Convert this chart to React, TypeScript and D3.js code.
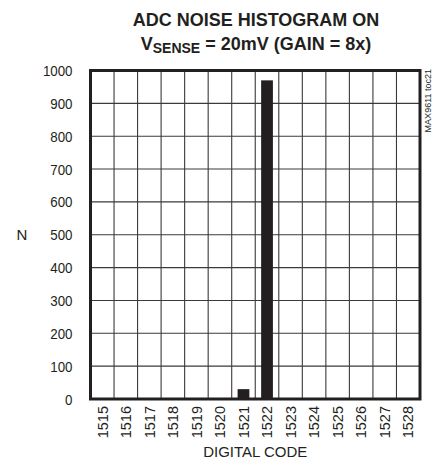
import { useRef, useEffect } from 'react';
import * as d3 from 'd3';

const codes = ['1515', '1516', '1517', '1518', '1519', '1520', '1521', '1522', '1523', '1524', '1525', '1526', '1527', '1528'];
const counts = [0, 0, 0, 0, 0, 0, 30, 970, 0, 0, 0, 0, 0, 0];
const yTicks = [0, 100, 200, 300, 400, 500, 600, 700, 800, 900, 1000];

const WIDTH = 435;
const HEIGHT = 465;
const MARGIN = { top: 70.5, right: 15, bottom: 66, left: 90.5 };
const FONT = 'Liberation Sans, Arial, sans-serif';

export default function App() {
  const svgRef = useRef<SVGSVGElement>(null);

  useEffect(() => {
    if (!svgRef.current) return;
    const svg = d3.select(svgRef.current);
    svg.selectAll('*').remove();

    const iW = WIDTH - MARGIN.left - MARGIN.right;
    const iH = HEIGHT - MARGIN.top - MARGIN.bottom;
    const g = svg.append('g').attr('transform', `translate(${MARGIN.left},${MARGIN.top})`);

    const x = d3.scaleBand<string>().domain(codes).range([0, iW]).paddingInner(0.5).paddingOuter(0.25);
    const xCell = d3.scaleBand<string>().domain(codes).range([0, iW]);
    const y = d3.scaleLinear().domain([0, 1000]).range([iH, 0]);

    // grid
    g.append('g')
      .attr('stroke', '#3a3a3a')
      .attr('stroke-width', 1.1)
      .selectAll('line')
      .data(yTicks.slice(1, -1))
      .join('line')
      .attr('x1', 0).attr('x2', iW)
      .attr('y1', (d) => y(d)).attr('y2', (d) => y(d));

    g.append('g')
      .attr('stroke', '#3a3a3a')
      .attr('stroke-width', 1.1)
      .selectAll('line')
      .data(codes.slice(1))
      .join('line')
      .attr('x1', (d) => xCell(d)!).attr('x2', (d) => xCell(d)!)
      .attr('y1', 0).attr('y2', iH);

    // bars
    g.append('g')
      .selectAll('rect')
      .data(codes.map((c, i) => ({ c, v: counts[i] })).filter((d) => d.v > 0))
      .join('rect')
      .attr('x', (d) => x(d.c)!)
      .attr('width', x.bandwidth())
      .attr('y', (d) => y(d.v))
      .attr('height', (d) => iH - y(d.v))
      .attr('fill', '#231f20');

    // frame
    g.append('rect')
      .attr('x', 0).attr('y', 0)
      .attr('width', iW).attr('height', iH)
      .attr('fill', 'none')
      .attr('stroke', '#231f20')
      .attr('stroke-width', 3);

    // y tick labels (slightly condensed like the original)
    g.append('g')
      .selectAll('text')
      .data(yTicks)
      .join('text')
      .attr('transform', (d) => `translate(-18,${y(d)}) scale(0.86,1)`)
      .attr('dy', '0.36em')
      .attr('text-anchor', 'end')
      .attr('font-family', FONT)
      .attr('font-size', 15.5)
      .attr('fill', '#231f20')
      .text((d) => d);

    // x tick labels
    g.append('g')
      .selectAll('text')
      .data(codes)
      .join('text')
      .attr('transform', (d) => `translate(${xCell(d)! + xCell.bandwidth() / 2},${iH + 7}) rotate(-90)`)
      .attr('dy', '0.36em')
      .attr('text-anchor', 'end')
      .attr('font-family', FONT)
      .attr('font-size', 14.5)
      .attr('fill', '#231f20')
      .text((d) => d);

    // axis titles
    svg.append('text')
      .attr('x', 22).attr('y', 235)
      .attr('dy', '0.36em')
      .attr('text-anchor', 'middle')
      .attr('font-family', FONT)
      .attr('font-size', 15)
      .attr('fill', '#231f20')
      .text('N');

    svg.append('text')
      .attr('x', MARGIN.left + iW / 2).attr('y', 457)
      .attr('text-anchor', 'middle')
      .attr('font-family', FONT)
      .attr('font-size', 15)
      .attr('fill', '#231f20')
      .text('DIGITAL CODE');

    svg.append('text')
      .attr('transform', 'translate(431,69) rotate(-90)')
      .attr('text-anchor', 'end')
      .attr('font-family', FONT)
      .attr('font-size', 9)
      .attr('fill', '#231f20')
      .text('MAX9611 toc21');

    // title
    const title = svg.append('g')
      .attr('font-family', FONT)
      .attr('font-weight', 'bold')
      .attr('fill', '#231f20')
      .attr('text-anchor', 'middle');
    title.append('text')
      .attr('x', 256).attr('y', 26)
      .attr('font-size', 18)
      .text('ADC NOISE HISTOGRAM ON');
    const t2 = title.append('text')
      .attr('x', 256).attr('y', 50)
      .attr('font-size', 18);
    t2.append('tspan').text('V');
    t2.append('tspan').attr('font-size', 14).attr('dy', 3).text('SENSE');
    t2.append('tspan').attr('dy', -3).text(' = 20mV (GAIN = 8x)');
  }, []);

  return (
    <svg
      ref={svgRef}
      width={WIDTH}
      height={HEIGHT}
      style={{ position: 'absolute', left: 0, top: 0, background: '#fff' }}
    />
  );
}
